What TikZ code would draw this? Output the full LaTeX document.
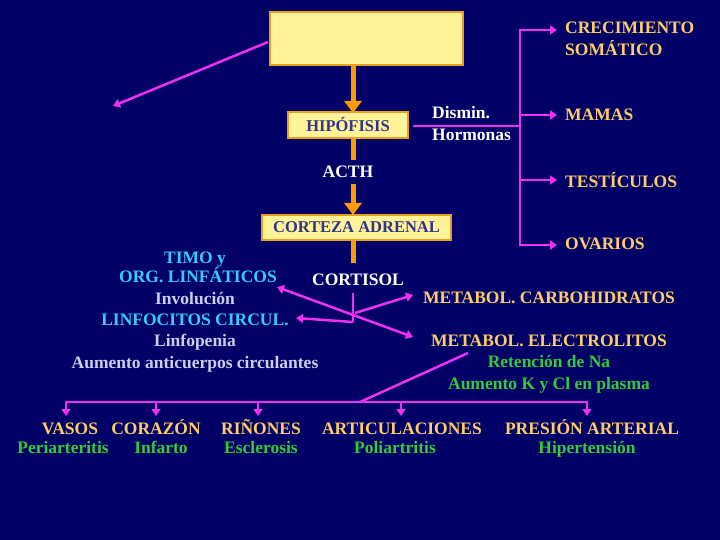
\documentclass[tikz,border=0pt]{standalone}
\usepackage{fontspec}
\setmainfont{Liberation Serif}
\usetikzlibrary{arrows.meta}
\definecolor{bg}{HTML}{000066}
\definecolor{boxf}{HTML}{FFF39A}
\definecolor{boxd}{HTML}{E8A020}
\definecolor{org}{HTML}{FF9A00}
\definecolor{mag}{HTML}{F030F0}
\definecolor{gold}{HTML}{FFCC66}
\definecolor{cyn}{HTML}{33CCFF}
\definecolor{lav}{HTML}{CCCCEE}
\definecolor{grn}{HTML}{33CC33}
\definecolor{boxt}{HTML}{33338A}
\begin{document}
\begin{tikzpicture}[x=1pt,y=-1pt,
  t/.style={font=\bfseries\fontsize{17.5}{22}\selectfont,inner sep=0pt,align=center},
  b/.style={t,anchor=base},
  box/.style={draw=boxd,fill=boxf,line width=1.5pt,text=boxt,font=\bfseries\fontsize{16.5}{20}\selectfont,inner sep=0pt},
  oa/.style={draw=org,line width=5pt},
  oarr/.style={-{Triangle[length=12pt,width=17pt]},draw=org,line width=5pt},
  ma/.style={draw=mag,line width=2.5pt,-{Triangle[length=7pt,width=9pt]}},
  ml/.style={draw=mag,line width=2.5pt}]
\fill[bg] (0,0) rectangle (720,540);
\useasboundingbox (0,0) rectangle (720,540);
\node[box,minimum width=193,minimum height=53] (top) at (366.5,38.5) {};
\node[box,minimum width=120,minimum height=26] (hip) at (348,125) {HIPÓFISIS};
\node[t,text=white] (acth) at (348,172) {ACTH};
\node[box,minimum width=189,minimum height=25] (cor) at (356.5,227.5) {CORTEZA ADRENAL};
\node[t,text=white] (cort) at (358,280) {CORTISOL};
\coordinate (tl) at (113,106);
\coordinate (tls) at (268,42);
\draw[ma] (tls) -- (tl);
% orange
\draw[oarr] (353,65) -- (353,113);
\draw[oa] (353,138) -- (353,160);
\draw[oarr] (353,184) -- (353,215);
\draw[oa] (353,240) -- (353,263);
% right bracket
\node[t,text=white,anchor=west,align=left] (dis) at (432,124) {Dismin.\\Hormonas};
\coordinate (bj) at (520,126);
\draw[ml] (hip.east) ++(4,1) -- (bj);
\draw[ml] (520,30) -- (520,245);
\node[t,text=gold,anchor=west,align=left] (crec) at (565,39) {CRECIMIENTO\\SOMÁTICO};
\node[t,text=gold,anchor=west] (mam) at (565,115) {MAMAS};
\node[t,text=gold,anchor=west] (tes) at (565,180) {TESTÍCULOS};
\node[t,text=gold,anchor=west] (ova) at (565,244) {OVARIOS};
\foreach \y in {30,115,180,245} \draw[ma] (519,\y) -- (557,\y);
% left texts
\node[b,text=cyn] (timo) at (195,263) {TIMO y};
\node[b,text=cyn] (org) at (198,282) {ORG. LINFÁTICOS};
\node[b,text=lav] (inv) at (195,304) {Involución};
\node[b,text=cyn] (linf) at (195,325) {LINFOCITOS CIRCUL.};
\node[b,text=lav] (lpe) at (195,346) {Linfopenia};
\node[b,text=lav] (aum) at (195,368) {Aumento anticuerpos circulantes};
% right texts
\node[b,text=gold] (carb) at (549,303) {METABOL. CARBOHIDRATOS};
\node[b,text=gold] (elec) at (549,346) {METABOL. ELECTROLITOS};
\node[b,text=grn] (ret) at (549,367) {Retención de Na};
\node[b,text=grn] (kcl) at (549,389) {Aumento K y Cl en plasma};
% cortisol magenta
\draw[ml] (353,293) -- (353,322);
\draw[ma] (355,313) -- (413,295);
\draw[draw=mag,line width=2.5pt,{Triangle[length=7pt,width=9pt]}-{Triangle[length=7pt,width=9pt]}] (277,287) -- (413,337);
\draw[ma] (353,322) -- (296,318);
% electrolitos to bottom
\coordinate (bh) at (360,402);
\draw[ml] (468,353) -- (bh);
\draw[ml] (66,402) -- (587,402);
\foreach \x in {66,156,258,401,587} \draw[ma] (\x,401) -- (\x,416);
% bottom texts
\node[b,text=gold] (vas) at (70,434) {VASOS};
\node[b,text=grn] (per) at (63,453) {Periarteritis};
\node[b,text=gold] (cz) at (156,434) {CORAZÓN};
\node[b,text=grn] (inf) at (161,453) {Infarto};
\node[b,text=gold] (rin) at (261,434) {RIÑONES};
\node[b,text=grn] (esc) at (261,453) {Esclerosis};
\node[b,text=gold] (art) at (402,434) {ARTICULACIONES};
\node[b,text=grn] (pol) at (395,453) {Poliartritis};
\node[b,text=gold] (pre) at (592,434) {PRESIÓN ARTERIAL};
\node[b,text=grn] (hip2) at (587,453) {Hipertensión};
\end{tikzpicture}
\end{document}
